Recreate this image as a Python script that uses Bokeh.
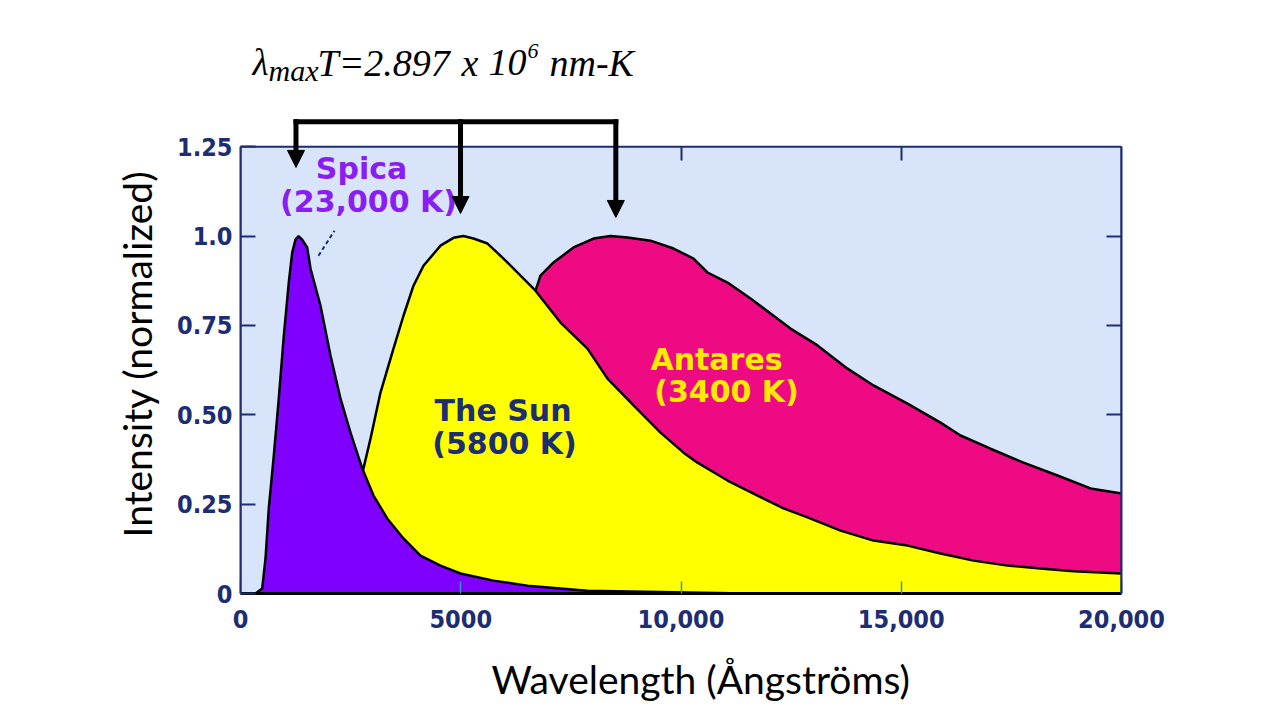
from bokeh.plotting import figure
from bokeh.layouts import column
from bokeh.models import FixedTicker, LinearAxis, Label, Arrow, NormalHead, Range1d
from bokeh.embed import file_html
from bokeh.resources import INLINE

# ---- data ----
spica_x = [341, 493, 568, 642, 756, 869, 983, 1096, 1174, 1249, 1317, 1400, 1514, 1589, 1816,
           2043, 2270, 2497, 2763, 3019, 3330, 3700, 4086, 4540, 4994, 5743, 6515, 7877, 11464]
spica_y = [0.0, 0.014, 0.098, 0.238, 0.386, 0.545, 0.721, 0.870, 0.954, 0.990, 1.0, 0.99, 0.968,
           0.909, 0.805, 0.666, 0.545, 0.450, 0.350, 0.274, 0.210, 0.154, 0.106, 0.078, 0.056,
           0.036, 0.022, 0.008, 0.0]

sun_x = [1500, 2000, 2300, 2550, 2792, 2951, 3178, 3473, 3700, 3927, 4154, 4540, 4835, 5060,
         5289, 5607, 5970, 6425, 6697, 7264, 7877, 8331, 8922, 9535, 10057, 10375, 11056, 11737,
         12327, 12872, 13621, 14370, 15142, 15891, 16640, 17412, 18161, 18910, 20000]
sun_y = [0.0, 0.04, 0.12, 0.24, 0.350, 0.433, 0.562, 0.685, 0.777, 0.861, 0.917, 0.973, 0.995,
         1.0, 0.993, 0.979, 0.937, 0.881, 0.847, 0.758, 0.685, 0.601, 0.526, 0.450, 0.394, 0.366,
         0.316, 0.274, 0.238, 0.213, 0.176, 0.148, 0.134, 0.112, 0.092, 0.078, 0.070, 0.062, 0.056]

antares_x = [2500, 3000, 3500, 4000, 4500, 5000, 5500, 6000, 6425, 6697, 6810, 7106, 7560, 8014,
             8400, 8785, 9308, 9830, 10284, 10602, 11056, 11578, 12100, 12486, 13099, 13780,
             14370, 15142, 15891, 16345, 17026, 17775, 18547, 19296, 20000]
antares_y = [0.0, 0.03, 0.10, 0.22, 0.35, 0.48, 0.60, 0.72, 0.80, 0.847, 0.889, 0.926, 0.968,
             0.993, 1.0, 0.996, 0.987, 0.965, 0.937, 0.898, 0.870, 0.825, 0.777, 0.741, 0.694,
             0.629, 0.582, 0.531, 0.478, 0.442, 0.405, 0.366, 0.330, 0.294, 0.280]

star_names = ["Spica", "The Sun", "Antares"]
star_temps = [23000, 5800, 3400]          # K
star_temp_labels = ["(23,000 K)", "(5800 K)", "(3400 K)"]
wien_const = 2.897e7                      # Angstrom * K  (2.897 x 10^6 nm-K)

x_ticks = [0, 5000, 10000, 15000, 20000]
x_tick_labels = ["0", "5000", "10,000", "15,000", "20,000"]
y_ticks = [0, 0.25, 0.5, 0.75, 1.0, 1.25]
y_tick_labels = ["0", "0.25", "0.50", "0.75", "1.0", "1.25"]

# ---- styles ----
NAVY = "#1C2D72"
BG = "#D7E4FA"
PURPLE = "#7F00FF"
YELLOW = "#FFFF00"
PINK = "#EE0A82"
TEAL = "#2A9DB5"
TICK_FONT = "DejaVu Sans Condensed"
STAR_FONT = "DejaVu Sans"
SERIF = "Liberation Serif"

x_range = Range1d(x_ticks[0], x_ticks[-1])
PX_PER_X = 881 / 20000.0   # screen px per Angstrom (for converting annotation sizes)

# ---------------- main chart ----------------
p = figure(width=1264, height=612, x_range=x_range, y_range=Range1d(0, 1.34),
           output_backend="svg", toolbar_location=None,
           min_border_left=240, min_border_right=143, min_border_top=14, min_border_bottom=119)
p.background_fill_color = "white"
p.border_fill_color = "white"
p.outline_line_color = None
p.grid.visible = False

# plot area background
p.quad(left=[x_ticks[0]], right=[x_ticks[-1]], bottom=[y_ticks[0]], top=[y_ticks[-1]],
       fill_color=BG, line_color=None)

# filled curves: Antares at back, then Sun, Spica on top
for xs, ys, col in [(antares_x, antares_y, PINK), (sun_x, sun_y, YELLOW), (spica_x, spica_y, PURPLE)]:
    p.varea(x=xs, y1=0, y2=ys, fill_color=col)
    p.line(x=xs, y=ys, line_color="black", line_width=2.5)

# plot-area border on top
p.quad(left=[x_ticks[0]], right=[x_ticks[-1]], bottom=[y_ticks[0]], top=[y_ticks[-1]],
       fill_color=None, line_color=NAVY, line_width=2)

# bottom axis
xa = p.xaxis[0]
xa.ticker = FixedTicker(ticks=x_ticks)
xa.major_label_overrides = {t: s for t, s in zip(x_ticks, x_tick_labels)}
xa.major_tick_in = 12
xa.major_tick_out = 0
xa.major_tick_line_color = TEAL
xa.major_tick_line_width = 1.5
xa.minor_tick_line_color = None
xa.axis_line_color = "black"
xa.axis_line_width = 3
xa.major_label_text_font = TICK_FONT
xa.major_label_text_font_style = "bold"
xa.major_label_text_font_size = "25px"
xa.major_label_text_color = NAVY
xa.major_label_standoff = 16
xa.axis_label = "\u00a0\u00a0\u00a0\u00a0Wavelength (Ångströms)"
xa.axis_label_text_font = "Lato"
xa.axis_label_text_font_style = "normal"
xa.axis_label_text_font_size = "39px"
xa.axis_label_text_color = "black"
xa.axis_label_standoff = 25

# left axis
ya = p.yaxis[0]
ya.ticker = FixedTicker(ticks=y_ticks)
ya.bounds = (y_ticks[0], y_ticks[-1])
ya.major_label_overrides = {t: s for t, s in zip(y_ticks, y_tick_labels)}
ya.major_tick_in = 15
ya.major_tick_out = 0
ya.major_tick_line_color = NAVY
ya.major_tick_line_width = 2
ya.minor_tick_line_color = None
ya.axis_line_color = NAVY
ya.axis_line_width = 2
ya.major_label_text_font = TICK_FONT
ya.major_label_text_font_style = "bold"
ya.major_label_text_font_size = "25px"
ya.major_label_text_color = NAVY
ya.major_label_standoff = 8
ya.axis_label = "Intensity (normalized)"
ya.axis_label_text_font = "Lato"
ya.axis_label_text_font_style = "normal"
ya.axis_label_text_font_size = "39px"
ya.axis_label_text_color = "black"
ya.axis_label_standoff = 14

# right axis and top edge: ticks only
right_ticks = [0.5, 0.75, 1.0]
ra = LinearAxis(ticker=FixedTicker(ticks=right_ticks), bounds=(y_ticks[0], y_ticks[-1]),
                major_tick_in=15, major_tick_out=0,
                major_tick_line_color=NAVY, major_tick_line_width=2, minor_tick_line_color=None,
                axis_line_color=NAVY, axis_line_width=2,
                major_label_overrides={t: "" for t in right_ticks})
p.add_layout(ra, "right")
top_ticks = [5000, 10000, 15000]
ta = LinearAxis(ticker=FixedTicker(ticks=top_ticks), fixed_location=y_ticks[-1],
                major_tick_in=14, major_tick_out=0,
                major_tick_line_color=NAVY, major_tick_line_width=2, minor_tick_line_color=None,
                axis_line_color=None, major_label_overrides={t: "" for t in top_ticks})
p.add_layout(ta, "above")

# leader line for Spica label
p.line(x=[1771, 2134], y=[0.945, 1.015], line_color=NAVY, line_width=2, line_dash="4 3")

# star labels
name_pos = [(2747, 1.190), (5960, 0.511), (10806, 0.655)]
temp_pos = [(2906, 1.098), (5993, 0.421), (11033, 0.565)]
label_cols = ["#8A1EF2", NAVY, "#FFEB00"]
for nm, tl, (nx, ny), (tx, ty), c in zip(star_names, star_temp_labels, name_pos, temp_pos, label_cols):
    for txt, lx, ly in [(nm, nx, ny), (tl, tx, ty)]:
        p.add_layout(Label(x=lx, y=ly, text=txt, text_align="center", text_baseline="alphabetic",
                           text_font=STAR_FONT, text_font_style="bold", text_font_size="30px",
                           text_color=c))

# Wien's law arrows (peak wavelengths)
peaks = [wien_const / t for t in star_temps]
tips = [1.192, 1.063, 1.052]
bar_y = 1.320
half_lw_x = 2.5 / PX_PER_X
p.add_layout(Arrow(start=None, end=None, x_start=min(peaks) - half_lw_x, y_start=bar_y,
                   x_end=max(peaks) + half_lw_x, y_end=bar_y, line_width=5, line_color="black"))
for pk, tip in zip(peaks, tips):
    p.add_layout(Arrow(end=NormalHead(size=17, fill_color="black", line_color="black", line_width=1),
                       x_start=pk, y_start=bar_y + 0.007, x_end=pk, y_end=tip,
                       line_width=5, line_color="black"))

# ---------------- title strip (formula) ----------------
t = figure(width=1264, height=100, x_range=x_range, y_range=Range1d(100, 0),
           output_backend="svg", toolbar_location=None, x_axis_location=None, y_axis_location=None,
           min_border_left=240, min_border_right=143, min_border_top=0, min_border_bottom=0)
t.outline_line_color = None
t.background_fill_color = "white"
t.border_fill_color = "white"
t.grid.visible = False

def px_to_x(px):
    return (px - 240) / PX_PER_X

formula_parts = [("λ", 252, 62, "37px"), ("max", 268, 70, "30px"), ("T=2.897", 317, 62, "38px"),
                 ("x", 461, 62, "38px"), ("10", 488, 62, "38px"), ("6", 527, 50, "22px"),
                 ("nm-K", 549, 62, "38px")]
for txt, px, py, fs in formula_parts:
    t.add_layout(Label(x=px_to_x(px), y=py, text=txt, text_align="left", text_baseline="alphabetic",
                       text_font=SERIF, text_font_style="italic", text_font_size=fs,
                       text_color="black"))

open("out.html", "w").write(file_html(column(t, p), INLINE))
